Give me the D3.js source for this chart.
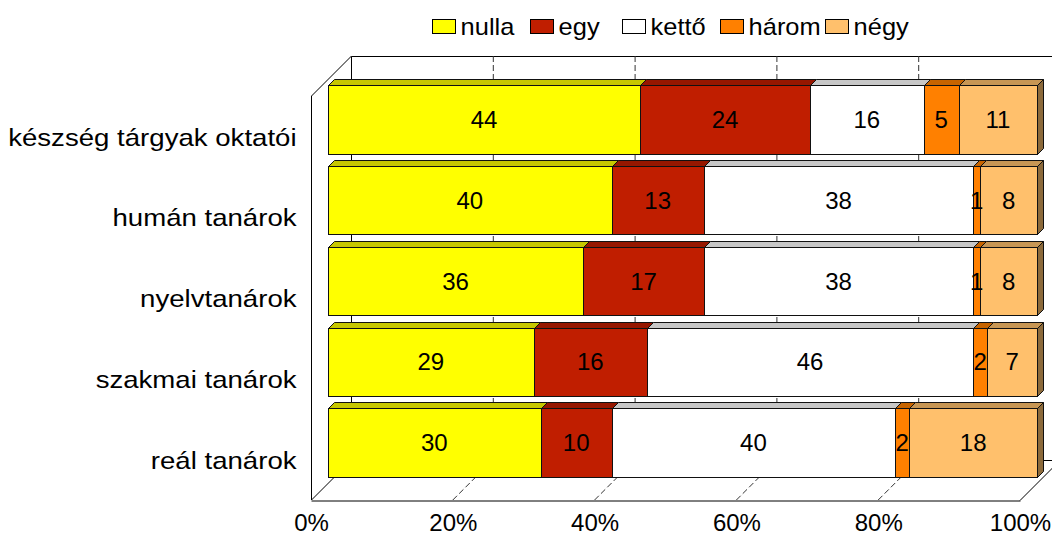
<!DOCTYPE html>
<html>
<head>
<meta charset="utf-8">
<script src="https://cdn.jsdelivr.net/npm/d3@7"></script>
<style>
  html, body { margin: 0; padding: 0; background: #fff; }
  svg { display: block; font-family: "Liberation Sans", Arial, sans-serif; }
</style>
</head>
<body>
<svg id="chart" width="1052" height="535"></svg>
<script>
// ---- data ----
const categories = ["készség tárgyak oktatói", "humán tanárok ", "nyelvtanárok", "szakmai tanárok", "reál tanárok"];
const seriesNames = ["nulla", "egy", "kettő", "három", "négy"];
const nulla = [44, 40, 36, 29, 30];
const egy   = [24, 13, 17, 16, 10];
const ketto = [16, 38, 38, 46, 40];
const harom = [5, 1, 1, 2, 2];
const negy  = [11, 8, 8, 7, 18];
const tickValues = [0, 20, 40, 60, 80, 100];
const colors = ["#FFFF00", "#C01E00", "#FFFFFF", "#FF8000", "#FFC06C"];

// ---- layout ----
const svg = d3.select("#chart");
const FX0 = 311, FX1 = 1020, FY0 = 96, FY1 = 500;   // front plane of the plot
const DEPTH = 40;       // full depth offset of walls (45deg)
const BAR_D = 17;       // depth at which bar front faces sit
const BAR_T = 6;        // thickness of bars in depth

const x = d3.scaleLinear().domain([0, 100]).range([FX0, FX1]);
const y = d3.scaleBand().domain(categories).range([FY0, FY1])
  .paddingInner(0.152).paddingOuter(0.076);

const rows = categories.map((c, i) => ({
  cat: c, nulla: nulla[i], egy: egy[i], "kettő": ketto[i], "három": harom[i], "négy": negy[i]
}));
const stack = d3.stack().keys(seriesNames)(rows);

const shade = (c, k) => { const r = d3.rgb(c); return d3.rgb(r.r * k, r.g * k, r.b * k).formatHex(); };

// ---- walls & floor ----
const walls = svg.append("g").attr("fill", "none").attr("stroke", "#000").attr("stroke-width", 1);
const grid = svg.append("g").attr("stroke", "#333").attr("stroke-width", 1).attr("stroke-dasharray", "6,3");
tickValues.filter(v => v > 0 && v < 100).forEach(v => {
  grid.append("line").attr("x1", x(v) + DEPTH + 0.5).attr("x2", x(v) + DEPTH + 0.5)
    .attr("y1", FY0 - DEPTH).attr("y2", FY1 - DEPTH);
  grid.append("line").attr("x1", x(v)).attr("y1", FY1)
    .attr("x2", x(v) + DEPTH).attr("y2", FY1 - DEPTH);
});
walls.append("path").attr("d",
  `M${FX0 + DEPTH + 0.5},${FY1 - DEPTH} V${FY0 - DEPTH + 0.5} H${FX1 + DEPTH + 0.5}`);
walls.append("path").attr("d", `M${FX0 + DEPTH},${FY1 - DEPTH + 0.5} H${FX1 + DEPTH}`);
walls.append("path").attr("d",
  `M${FX0 + 0.5},${FY0} L${FX0 + DEPTH + 0.5},${FY0 - DEPTH} M${FX0 + 0.5},${FY1} L${FX0 + DEPTH + 0.5},${FY1 - DEPTH}`);
walls.append("path").attr("d", `M${FX1},${FY1 + 0.5} L${FX1 + DEPTH},${FY1 - DEPTH + 0.5}`);

// ---- axes ----
const xAxis = svg.append("g").attr("transform", `translate(0,${FY1 + 0.5})`)
  .call(d3.axisBottom(x).tickValues(tickValues).tickFormat(d => d + "%").tickSize(0).tickSizeOuter(0).tickPadding(13));
xAxis.select(".domain").attr("stroke", "#000");
xAxis.selectAll("text").attr("font-size", 24).attr("fill", "#000")
  .attr("font-family", "Liberation Sans, Arial, sans-serif");

const yAxis = svg.append("g").attr("transform", `translate(${FX0 + 0.5},0)`)
  .call(d3.axisLeft(y).tickSize(0).tickSizeOuter(0).tickPadding(13));
yAxis.select(".domain").attr("stroke", "#000").attr("d", `M0,${FY0}V${FY1}`);
yAxis.selectAll("text").attr("font-size", 24).attr("fill", "#000")
  .attr("font-family", "Liberation Sans, Arial, sans-serif")
  .attr("dy", "0.38em")
  .attr("transform", "scale(1.15,1)");

// ---- bars ----
const bars = svg.append("g").attr("stroke", "#111").attr("stroke-width", 1).attr("stroke-linejoin", "miter");
stack.forEach((layer, si) => {
  const col = colors[si];
  layer.forEach((d, i) => {
    const cat = categories[i];
    const x0 = Math.round(x(d[0]) + BAR_D) + 0.5, x1 = Math.round(x(d[1]) + BAR_D) + 0.5;
    const yt = Math.round(y(cat) - BAR_D) + 0.5, yb = Math.round(y(cat) + y.bandwidth() - BAR_D) + 0.5;
    const g = bars.append("g");
    g.append("path").attr("fill", shade(col, 0.78))
      .attr("d", `M${x0},${yt} L${x0 + BAR_T},${yt - BAR_T} L${x1 + BAR_T},${yt - BAR_T} L${x1},${yt} Z`);
    if (si === stack.length - 1) {
      g.append("path").attr("fill", shade(col, 0.55))
        .attr("d", `M${x1},${yt} L${x1 + BAR_T},${yt - BAR_T} L${x1 + BAR_T},${yb - BAR_T} L${x1},${yb} Z`);
    }
    g.append("rect").attr("x", x0).attr("y", yt).attr("width", x1 - x0).attr("height", yb - yt)
      .attr("fill", col);
  });
});

// ---- value labels ----
const labels = svg.append("g").attr("font-size", 24).attr("fill", "#000").attr("text-anchor", "middle");
stack.forEach((layer, si) => {
  layer.forEach((d, i) => {
    const cat = categories[i];
    const cx = (x(d[0]) + x(d[1])) / 2 + BAR_D;
    const cy = y(cat) + y.bandwidth() / 2 - BAR_D;
    labels.append("text").attr("x", cx).attr("y", cy).attr("dy", "0.36em")
      .text(d[1] - d[0]);
  });
});

// ---- legend ----
const legendX = [432, 530, 622, 720, 825];
const legend = svg.append("g");
seriesNames.forEach((name, i) => {
  const g = legend.append("g").attr("transform", `translate(${legendX[i]},0)`);
  g.append("rect").attr("x", 0.5).attr("y", 19.5).attr("width", 23).attr("height", 14)
    .attr("fill", colors[i]).attr("stroke", "#000").attr("stroke-width", 1);
  g.append("text").attr("x", 27).attr("y", 35.5).attr("font-size", 24).attr("fill", "#000")
    .attr("transform", "scale(1.06,1)").text(name);
});
</script>
</body>
</html>
